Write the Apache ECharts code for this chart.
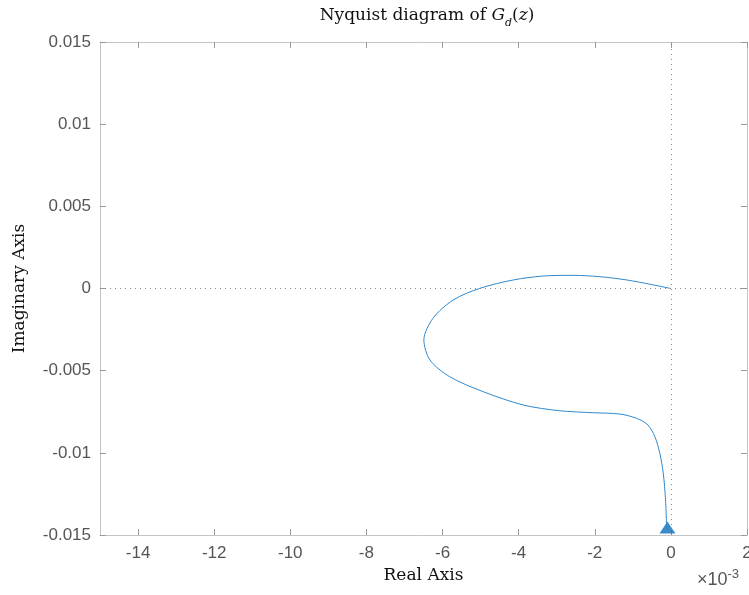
<!DOCTYPE html>
<html>
<head>
<meta charset="utf-8">
<script src="https://cdn.jsdelivr.net/npm/echarts@6/dist/echarts.min.js"></script>
<style>
html, body { margin: 0; padding: 0; background: #fff; }
#main { width: 749px; height: 595px; }
</style>
</head>
<body>
<div id="main"></div>
<script>
// real part in units of 1e-3, imaginary part as is
var realPart = [0, -0.55, -1.16, -1.87, -2.57, -3.36, -4.14, -5.02, -5.72, -6.25, -6.49, -6.33,
    -5.81, -4.93, -3.88, -2.92, -2.04, -1.34, -0.90, -0.60, -0.42, -0.29, -0.20, -0.14, -0.11];
var imagPart = [0, 0.00026, 0.00052, 0.00072, 0.00080, 0.00076, 0.00052, 0.00001, -0.00070, -0.00181,
    -0.00313, -0.00435, -0.00537, -0.00628, -0.00709, -0.00744, -0.00756, -0.00764, -0.00790, -0.00831,
    -0.00902, -0.01003, -0.01125, -0.01287, -0.01470];
var arrowPoint = [-0.09, -0.01455];
var xTicks = [-14, -12, -10, -8, -6, -4, -2, 0, 2];

var chart = echarts.init(document.getElementById('main'));

var curve = realPart.map(function (x, i) { return [x, imagPart[i]]; });
var serif = '"DejaVu Serif", "Liberation Serif", serif';
var sans = '"Liberation Sans", Arial, sans-serif';
var boxColor = '#c4c4c4';
var tickColor = '#9a9a9a';
var labelColor = '#555555';

var option = {
    animation: false,
    title: {
        text: '{a|Nyquist diagram of }{i|G}{s|d}{a|(}{i|z}{a|)}',
        left: 422,
        textAlign: 'center',
        top: -2,
        textStyle: {
            fontWeight: 'normal',
            rich: {
                a: { fontFamily: serif, fontSize: 17, fontWeight: 'normal', color: '#111', lineHeight: 26 },
                i: { fontFamily: serif, fontSize: 17, fontWeight: 'normal', fontStyle: 'italic', color: '#111', lineHeight: 26 },
                s: { fontFamily: serif, fontSize: 11, fontWeight: 'normal', fontStyle: 'italic', color: '#111', lineHeight: 26, verticalAlign: 'bottom', padding: [8, 0, 0, 0] }
            }
        }
    },
    grid: { left: 100, right: 2, top: 42, bottom: 60, outerBoundsMode: 'none' },
    xAxis: [{
        type: 'value',
        min: -15,
        max: 2,
        interval: 1,
        name: 'Real Axis',
        nameLocation: 'middle',
        nameGap: 32,
        nameTextStyle: { fontFamily: serif, fontSize: 17, color: '#111' },
        axisLine: { onZero: false, lineStyle: { color: boxColor } },
        axisTick: { inside: true, length: 6, lineStyle: { color: tickColor },
            customValues: xTicks },
        axisLabel: { margin: 10, fontFamily: sans, fontSize: 17, color: labelColor,
            customValues: xTicks },
        splitLine: { show: false }
    }, {
        type: 'value',
        position: 'top',
        min: -15,
        max: 2,
        interval: 1,
        axisLine: { show: true, onZero: false, lineStyle: { color: boxColor } },
        axisTick: { show: true, inside: true, length: 6, lineStyle: { color: tickColor },
            customValues: xTicks },
        axisLabel: { show: false },
        splitLine: { show: false }
    }],
    yAxis: [{
        type: 'value',
        min: -0.015,
        max: 0.015,
        interval: 0.005,
        name: 'Imaginary Axis',
        nameLocation: 'middle',
        nameGap: 72,
        nameTextStyle: { fontFamily: serif, fontSize: 17, color: '#111' },
        axisLine: { show: true, onZero: false, lineStyle: { color: boxColor } },
        axisTick: { show: true, inside: true, length: 6, lineStyle: { color: tickColor } },
        axisLabel: { margin: 9, fontFamily: sans, fontSize: 17, color: labelColor,
            formatter: function (v) { return String(Math.round(v * 1000) / 1000); } },
        splitLine: { show: false }
    }, {
        type: 'value',
        position: 'right',
        min: -0.015,
        max: 0.015,
        interval: 0.005,
        axisLine: { show: true, onZero: false, lineStyle: { color: boxColor } },
        axisTick: { show: true, inside: true, length: 6, lineStyle: { color: tickColor } },
        axisLabel: { show: false },
        splitLine: { show: false }
    }],
    graphic: [{
        type: 'text',
        left: 697,
        top: 568,
        style: {
            text: '{a|×10}{b|-3}',
            rich: {
                a: { fontFamily: sans, fontSize: 18, fill: labelColor, lineHeight: 24 },
                b: { fontFamily: sans, fontSize: 13, fill: labelColor, verticalAlign: 'top', lineHeight: 24, padding: [0, 0, 10, 0] }
            }
        }
    }],
    series: [{
        type: 'line',
        data: curve,
        smooth: 0.3,
        showSymbol: false,
        lineStyle: { color: '#2f88cc', width: 1 },
        markLine: {
            silent: true,
            symbol: 'none',
            label: { show: false },
            lineStyle: { color: '#888', type: [1, 4], width: 1 },
            data: [{ xAxis: 0 }, { yAxis: 0 }]
        }
    }, {
        type: 'scatter',
        data: [arrowPoint],
        symbol: 'triangle',
        symbolSize: [16, 12],
        itemStyle: { color: '#0a6eb8' }
    }]
};
chart.setOption(option);
</script>
</body>
</html>
